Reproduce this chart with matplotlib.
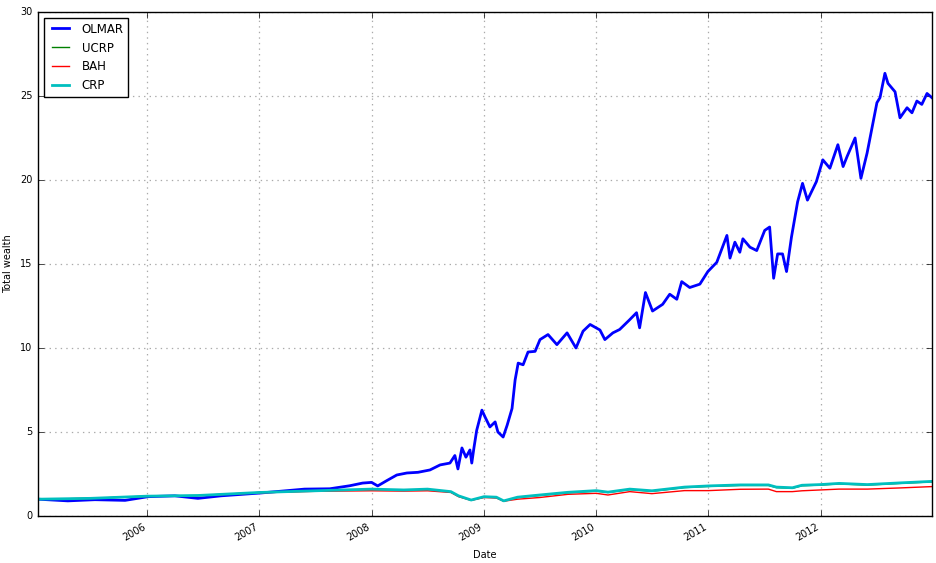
#!/usr/bin/env python3
# -*- coding: utf-8 -*-

import pandas as pd
import numpy as np
import matplotlib
matplotlib.use('Agg')
import matplotlib.pyplot as plt
import matplotlib.dates as mdates

'''Total wealth of the OLMAR strategy against UCRP, BAH and CRP benchmarks
'''

###DATA###
olmar_dates = ['2005-01-11', '2005-04-18', '2005-07-15', '2005-10-21', '2006-01-04', '2006-04-01',
	'2006-06-15', '2006-08-29', '2007-01-06', '2007-05-28', '2007-08-18', '2007-10-22', '2007-12-03',
	'2008-01-01', '2008-01-21', '2008-02-19', '2008-03-23', '2008-04-25', '2008-05-31', '2008-07-09',
	'2008-08-11', '2008-09-12', '2008-09-28', '2008-10-08', '2008-10-21', '2008-11-03', '2008-11-16',
	'2008-11-22', '2008-11-29', '2008-12-08', '2008-12-25', '2009-01-04', '2009-01-20', '2009-02-06',
	'2009-02-15', '2009-03-04', '2009-03-17', '2009-04-02', '2009-04-12', '2009-04-22', '2009-05-08',
	'2009-05-24', '2009-06-16', '2009-07-02', '2009-07-28', '2009-08-26', '2009-09-28', '2009-10-27',
	'2009-11-19', '2009-12-12', '2010-01-13', '2010-01-29', '2010-02-24', '2010-03-18', '2010-04-19',
	'2010-05-12', '2010-05-22', '2010-06-10', '2010-07-03', '2010-08-05', '2010-08-28', '2010-09-20',
	'2010-10-06', '2010-11-01', '2010-12-04', '2010-12-30', '2011-01-28', '2011-03-02', '2011-03-12',
	'2011-03-28', '2011-04-13', '2011-04-23', '2011-05-16', '2011-06-07', '2011-07-03', '2011-07-19',
	'2011-08-01', '2011-08-14', '2011-08-30', '2011-09-12', '2011-09-28', '2011-10-18', '2011-11-03',
	'2011-11-19', '2011-12-18', '2012-01-08', '2012-01-31', '2012-02-26', '2012-03-14', '2012-03-27',
	'2012-04-22', '2012-05-11', '2012-05-31', '2012-06-16', '2012-07-02', '2012-07-12', '2012-07-28',
	'2012-08-07', '2012-08-30', '2012-09-15', '2012-10-08', '2012-10-24', '2012-11-09', '2012-11-25',
	'2012-12-12', '2012-12-28']
olmar_values = [1.0, 0.9, 0.97, 0.93, 1.15, 1.2,
	1.05, 1.2, 1.37, 1.6, 1.62, 1.8, 1.96,
	2.0, 1.79, 2.1, 2.44, 2.56, 2.6, 2.74,
	3.04, 3.15, 3.6, 2.8, 4.05, 3.5, 3.93,
	3.15, 4.05, 5.1, 6.3, 5.9, 5.3, 5.6,
	5.0, 4.7, 5.4, 6.4, 8.1, 9.1, 9.0,
	9.76, 9.8, 10.5, 10.8, 10.2, 10.9, 10.0,
	11.0, 11.4, 11.07, 10.5, 10.9, 11.1, 11.67,
	12.1, 11.2, 13.3, 12.2, 12.6, 13.2, 12.9,
	13.95, 13.6, 13.8, 14.55, 15.1, 16.7, 15.35,
	16.3, 15.7, 16.5, 16.0, 15.8, 17.0, 17.2,
	14.15, 15.6, 15.6, 14.55, 16.6, 18.7, 19.8,
	18.8, 19.9, 21.2, 20.7, 22.1, 20.8, 21.4,
	22.5, 20.1, 21.6, 23.1, 24.6, 24.9, 26.35,
	25.75, 25.25, 23.7, 24.3, 24.0, 24.7, 24.5,
	25.15, 24.9]

bench_dates = ['2005-01-11', '2005-07-01', '2006-01-01', '2006-06-15', '2007-01-01', '2007-07-01',
	'2008-01-01', '2008-04-15', '2008-07-01', '2008-09-15', '2008-10-10', '2008-11-20', '2009-01-01',
	'2009-02-10', '2009-03-06', '2009-04-20', '2009-07-01', '2009-10-01', '2010-01-01', '2010-02-08',
	'2010-04-20', '2010-07-01', '2010-10-15', '2011-01-01', '2011-04-15', '2011-07-15', '2011-08-10',
	'2011-10-01', '2011-11-01', '2011-12-31', '2012-03-01', '2012-06-01', '2012-09-15', '2012-12-28']
crp_values = [1.0, 1.05, 1.18, 1.22, 1.4, 1.5,
	1.6, 1.55, 1.6, 1.45, 1.2, 0.95, 1.15,
	1.12, 0.9, 1.12, 1.25, 1.41, 1.51, 1.42,
	1.6, 1.5, 1.72, 1.79, 1.85, 1.85, 1.72,
	1.68, 1.83, 1.87, 1.94, 1.87, 1.97, 2.06]
ucrp_values = [1.0, 1.05, 1.18, 1.22, 1.4, 1.49,
	1.58, 1.53, 1.58, 1.43, 1.18, 0.94, 1.13,
	1.1, 0.89, 1.1, 1.22, 1.38, 1.48, 1.4,
	1.57, 1.47, 1.69, 1.76, 1.82, 1.82, 1.69,
	1.65, 1.8, 1.84, 1.91, 1.84, 1.94, 2.03]
bah_values = [1.0, 1.05, 1.17, 1.21, 1.38, 1.47,
	1.5, 1.48, 1.5, 1.4, 1.15, 0.93, 1.1,
	1.07, 0.88, 1.0, 1.1, 1.29, 1.35, 1.25,
	1.45, 1.33, 1.51, 1.51, 1.59, 1.6, 1.45,
	1.45, 1.5, 1.55, 1.6, 1.6, 1.67, 1.75]

series_names = ['OLMAR', 'UCRP', 'BAH', 'CRP']
series_colors = ['b', 'g', 'r', 'c']
series_widths = [2, 1, 1, 2]


###FUNCTIONS###
def build_frame():
	'''puts every series in a dataframe indexed by date
	'''
	olmar = pd.Series(olmar_values, index=pd.to_datetime(olmar_dates))
	bench = pd.DataFrame({'UCRP': ucrp_values, 'BAH': bah_values, 'CRP': crp_values},
		index=pd.to_datetime(bench_dates))
	return olmar, bench


def plot_wealth(olmar, bench):
	'''plots the total wealth curves
	'''
	plt.style.use('classic')
	fig = plt.figure(figsize=(9.37, 5.63), dpi=100, facecolor='white')
	ax = fig.add_axes([0.0406, 0.0835, 0.954, 0.8952])
	#grid behind the lines and the frame
	ax.set_axisbelow(True)

	data = {'OLMAR': olmar, 'UCRP': bench['UCRP'], 'BAH': bench['BAH'], 'CRP': bench['CRP']}
	for name, col, lw in zip(series_names, series_colors, series_widths):
		s = data[name]
		ax.plot(s.index, s.values, color=col, lw=lw, label=name)

	ax.set_xlim(pd.Timestamp(olmar_dates[0]), pd.Timestamp(olmar_dates[-1]))
	ax.set_ylim(0, 30)
	ax.xaxis.set_major_locator(mdates.YearLocator())
	ax.xaxis.set_major_formatter(mdates.DateFormatter('%Y'))
	for lab in ax.get_xticklabels():
		lab.set_rotation(30)
		lab.set_ha('right')
	ax.tick_params(labelsize=7)

	ax.grid(True, color='#aaaaaa', linestyle=':', linewidth=0.9)
	ax.set_xlabel('Date', fontsize=7)
	ax.set_ylabel('Total wealth', fontsize=7)
	ax.legend(loc='upper left', fontsize=8.5, handlelength=2)

	fig.savefig('out.png', dpi=100, facecolor='white')
	plt.close()


###MAIN###
olmar, bench = build_frame()
plot_wealth(olmar, bench)
